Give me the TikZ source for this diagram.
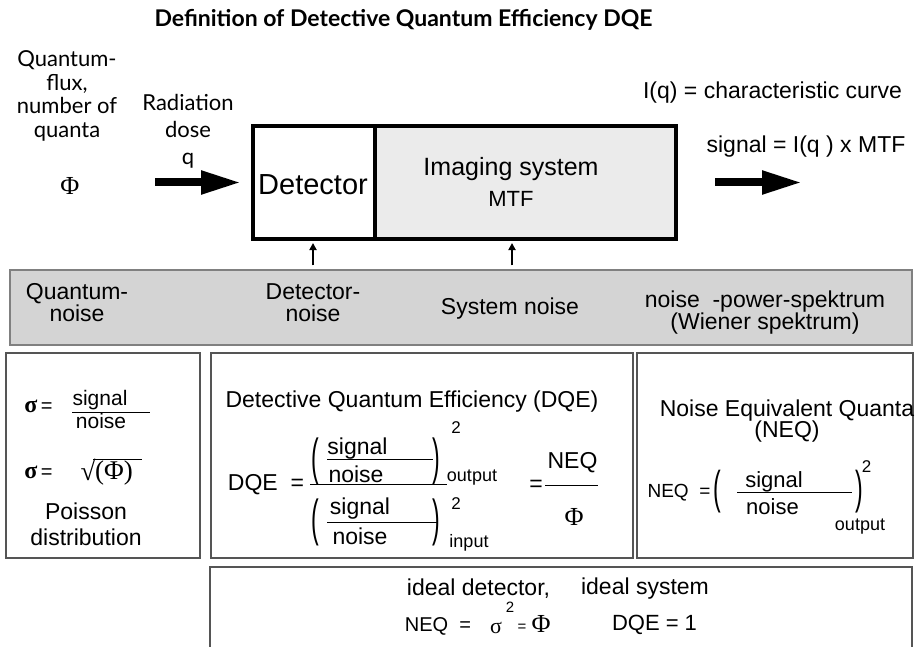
\documentclass[tikz,border=0pt]{standalone}
\usepackage{fontspec}
\usepackage{graphicx}
\setmainfont{Liberation Sans}
\newfontfamily\gill{Lato}
\newfontfamily\serif{Liberation Serif}
\usetikzlibrary{arrows.meta}
\newcommand{\fsz}[2]{\fontsize{#1}{#2}\selectfont}
\definecolor{imgfill}{HTML}{EBEBEB}
\definecolor{bandfill}{HTML}{D4D4D4}
\definecolor{bandline}{HTML}{808080}
\definecolor{boxline}{HTML}{555555}
\begin{document}
\begin{tikzpicture}[x=1pt,y=-1pt,
  txt/.style={inner sep=0pt, font=\fsz{23}{24}},
  gilltxt/.style={inner sep=0pt, align=center, font=\gill\fsz{22}{23.5}},
  sertxt/.style={inner sep=0pt, font=\serif\fsz{26}{28}},
  mainbox/.style={draw=black, line width=4pt, inner sep=0pt, minimum height=113pt},
  infobox/.style={draw=boxline, line width=1.3pt, inner sep=0pt, minimum height=205pt},
  bigarrow/.style={line width=8pt, -{Triangle[length=40pt,width=22pt]}},
  smallarrow/.style={line width=1.8pt, -{Triangle[length=7pt,width=7pt]}},
  fracbar/.style={line width=0.9pt},
  paren/.style={inner sep=0pt, font=\fsz{23}{24}}
]
\useasboundingbox (0,0) rectangle (918,647);
\fill[white] (0,0) rectangle (918,647);

% title
\node[inner sep=0pt, font=\gill\bfseries\fsz{23}{25}] (title) at (403.5,20) {Definition of Detective Quantum Efficiency DQE};

% left labels
\node[gilltxt] (flux) at (67,96) {Quantum-\\flux,\\number of\\quanta};
\node[sertxt] (phi) at (70,186) {Φ};
\node[gilltxt, font=\gill\fsz{22}{27}] (dose) at (188,131) {Radiation\\dose\\q};

% main boxes
\node[mainbox, fill=imgfill, minimum width=301pt] (img) at (525.5,182.5) {};
\node[mainbox, fill=white, minimum width=122pt] (det) at (314,182.5) {};
\node[txt, font=\fsz{29}{30}] (dett) at (313,185) {Detector};
\node[txt, font=\fsz{25}{26}] (imgt) at (511,169) {Imaging system};
\node[txt, font=\fsz{22}{23}] (mtf) at (511,198.5) {MTF};

% right labels
\node[txt] (iq) at (772.5,93) {I(q) = characteristic curve};
\node[txt] (sig) at (806,147) {signal = I(q ) x MTF};

% arrows
\coordinate (inL) at (155,182.5);
\coordinate (outR) at (802,182.5);
\draw[bigarrow, shorten >=10pt] (inL) -- (det.west);
\draw[bigarrow, shorten <=37pt] (img.east) -- (outR);

% band
\node[draw=bandline, fill=bandfill, line width=1.2pt, minimum width=902pt, minimum height=75pt, inner sep=0pt] (band) at (461,307.5) {};
\coordinate (s1) at (313,239);
\coordinate (s2) at (512,239);
\draw[smallarrow, shorten <=4pt, shorten >=4pt] (band.north -| s1) -- (s1);
\draw[smallarrow, shorten <=4pt, shorten >=4pt] (band.north -| s2) -- (s2);
\node[txt, align=center, font=\fsz{23}{22}] (qn) at (77,303) {Quantum-\\noise};
\node[txt, align=center, font=\fsz{23}{22}] (dn) at (313,303) {Detector-\\noise};
\node[txt] (sn) at (510,309) {System noise};
\node[txt, align=center, font=\fsz{23}{21.5}] (nps) at (765,312.5) {noise~ -power-spektrum\\(Wiener spektrum)};

% lower boxes
\node[infobox, minimum width=194pt] (b1) at (103,455.5) {};
\node[infobox, minimum width=422pt] (b2) at (422,455.5) {};
\node[infobox, minimum width=276pt] (b3) at (775,455.5) {};
\node[infobox, minimum width=702pt, minimum height=126pt] (b4) at (561,630) {};

% box 1
\node[inner sep=0pt, font=\fsz{20}{22}] (sa) at (38.5,406) {{\serif\bfseries\fsz{24}{24}σ}\,=};
\node[txt, font=\fsz{21}{22}] (sg1) at (100,400) {signal};
\draw[fracbar] (72,412) -- (150,412);
\node[txt, font=\fsz{21}{22}] (no1) at (101,421) {noise};
\node[inner sep=0pt, font=\fsz{20}{22}] (sb) at (38.5,472) {{\serif\bfseries\fsz{24}{24}σ}\,=};
\node[inner sep=0pt, font=\serif\fsz{27}{28}] (sq) at (88,470) {√};
\node[inner sep=0pt, font=\serif\fsz{27}{28}] (pphi) at (114,473) {(Φ)};
\draw[line width=0.9pt] (93,459) -- (142,459);
\node[txt, align=center, font=\fsz{23}{26}] (pois) at (86,524) {Poisson\\distribution};

% box 2
\node[txt] (dqet) at (412,402) {Detective Quantum Efficiency (DQE)};
\node[txt] (dqel) at (266,485) {DQE~ =};
\draw[fracbar] (310,484) -- (447,484);
\node[paren] (p1) at (315,461.5) {\scalebox{1}[2.2]{(}};
\node[paren] (p2) at (436.5,461.5) {\scalebox{1}[2.2]{)}};
\node[txt] (sg2) at (357.5,449) {signal};
\draw[fracbar] (327,459) -- (433,459);
\node[txt] (no2) at (356,474) {noise};
\node[inner sep=0pt, font=\fsz{17}{17}] (sq2) at (456,428) {2};
\node[inner sep=0pt, font=\fsz{18}{19}] (out2) at (472,478) {output};
\node[paren] (p3) at (315,522) {\scalebox{1}[2.2]{(}};
\node[paren] (p4) at (436.5,522) {\scalebox{1}[2.2]{)}};
\node[txt] (sg3) at (360,509) {signal};
\draw[fracbar] (327,522) -- (437,522);
\node[txt] (no3) at (360,536) {noise};
\node[inner sep=0pt, font=\fsz{17}{17}] (sq3) at (456,504) {2};
\node[inner sep=0pt, font=\fsz{18}{19}] (inp) at (469,543) {input};
\node[txt] (eq2) at (536,486) {=};
\node[txt] (neq2) at (572.5,463) {NEQ};
\draw[fracbar] (545,485) -- (598,485);
\node[sertxt] (phi2) at (574,517) {Φ};

% box 3
\node[txt] (neqt) at (787,411) {Noise Equivalent Quanta};
\node[txt] (neqa) at (787,432) {(NEQ)};
\node[inner sep=0pt, font=\fsz{19}{20}] (neql) at (679,493) {NEQ~ =};
\node[paren] (p5) at (717.5,491.5) {\scalebox{1}[2.0]{(}};
\node[paren] (p6) at (859.5,491.5) {\scalebox{1}[2.0]{)}};
\node[txt, font=\fsz{22}{23}] (sg4) at (774,482) {signal};
\draw[fracbar] (737,492) -- (852,492);
\node[txt, font=\fsz{22}{23}] (no4) at (772.5,506.5) {noise};
\node[inner sep=0pt, font=\fsz{17}{17}] (sq4) at (866.5,467) {2};
\node[inner sep=0pt, font=\fsz{18}{19}] (out4) at (860,527) {output};

% box 4
\node[txt] (idd) at (478.5,589) {ideal detector,};
\node[txt] (ids) at (645,589) {ideal system};
\node[inner sep=0pt, font=\fsz{20}{22}] (neq5) at (438,626) {NEQ~ =};
\node[inner sep=0pt, font=\serif\fsz{22}{24}] (sig5) at (496,628) {σ};
\node[inner sep=0pt, font=\fsz{15}{16}] (sq5) at (510,607.5) {2};
\node[inner sep=0pt, font=\fsz{15}{16}] (eq5) at (522,628) {=};
\node[sertxt] (phi5) at (541,624) {Φ};
\node[txt, font=\fsz{22}{23}] (dqe1) at (654.5,625) {DQE = 1};
\end{tikzpicture}
\end{document}
